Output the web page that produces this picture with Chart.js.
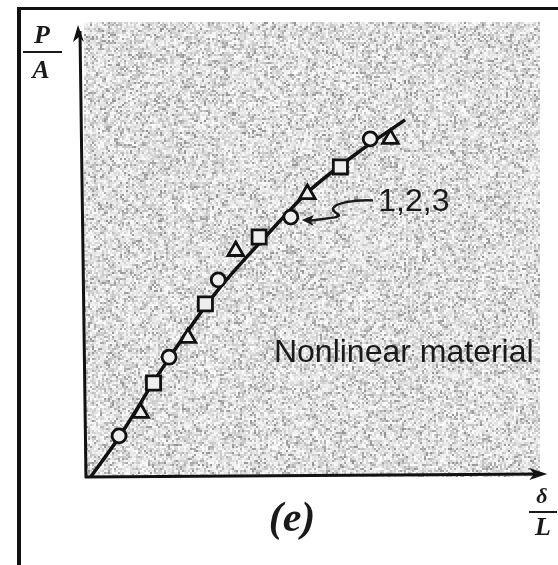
<!DOCTYPE html>
<html>
<head>
<meta charset="utf-8">
<script src="https://cdn.jsdelivr.net/npm/chart.js@4"></script>
<style>
  html, body { margin: 0; padding: 0; background: #fff; }
  canvas { display: block; }
</style>
</head>
<body>
<canvas id="chart" width="558" height="565"></canvas>
<script>
// curve through the test points (strain, stress)
var curveX = [1, 7.2, 16.4, 27.9, 39.2, 48.4, 60.6, 69.5];
var curveY = [0, 8.8, 23.7, 40.3, 53.3, 63.1, 72.8, 79.0];

// specimen 1 (circles), 2 (triangles), 3 (squares)
var circleX = [7.2, 18.1, 28.8, 44.6, 61.9];
var circleY = [9.1, 26.5, 43.6, 57.5, 74.8];
var triangleX = [11.9, 22.2, 32.6, 48.2, 66.3];
var triangleY = [14.2, 30.8, 50.0, 62.6, 74.8];
var squareX = [14.7, 26.0, 37.7, 55.4];
var squareY = [20.8, 38.3, 53.1, 68.6];

var pairs = function (xs, ys) {
  return xs.map(function (x, i) { return { x: x, y: ys[i] }; });
};

// small deterministic generator for the paper texture
function mulberry32(a) {
  return function () {
    a |= 0; a = a + 0x6D2B79F5 | 0;
    var t = Math.imul(a ^ a >>> 15, 1 | a);
    t = t + Math.imul(t ^ t >>> 7, 61 | t) ^ t;
    return ((t ^ t >>> 14) >>> 0) / 4294967296;
  };
}

// gray stipple texture + frame + axes with arrows, drawn behind the data
var backdrop = {
  id: 'backdrop',
  beforeDatasetsDraw: function (chart) {
    var ctx = chart.ctx, a = chart.chartArea;
    ctx.save();
    // frame (left and top rules of the scanned page)
    ctx.fillStyle = '#111';
    ctx.fillRect(17, 7, 4, 558);
    ctx.fillRect(17, 7, 541, 3);

    // stipple
    var x0 = Math.round(a.left - 2), y0 = Math.round(a.top - 3);
    var w = Math.round(a.right - 5 - x0), h = Math.round(a.bottom - y0);
    var img = ctx.createImageData(w, h);
    var rnd = mulberry32(2024);
    var cw = Math.ceil(w / 2) + 1, ch = Math.ceil(h / 2) + 1;
    var cell = new Array(cw * ch);
    for (var i = 0; i < cw * ch; i++) {
      var r = rnd();
      var v = r < 0.15 ? 145 + rnd() * 45 : (r < 0.45 ? 195 + rnd() * 25 : 222 + rnd() * 32);
      cell[i] = Math.round(v);
    }
    for (var yy = 0; yy < h; yy++) {
      for (var xx = 0; xx < w; xx++) {
        var c = cell[(yy >> 1) * cw + (xx >> 1)];
        var k = (yy * w + xx) * 4;
        img.data[k] = c;
        img.data[k + 1] = c;
        img.data[k + 2] = c;
        img.data[k + 3] = 255;
      }
    }
    ctx.putImageData(img, x0, y0);

    // axes
    ctx.strokeStyle = '#111';
    ctx.fillStyle = '#111';
    ctx.lineWidth = 3;
    ctx.beginPath();
    ctx.moveTo(a.left, a.bottom + 1);
    ctx.lineTo(a.left - 6, a.top + 6);
    ctx.moveTo(a.left - 1, a.bottom);
    ctx.lineTo(a.right - 4, a.bottom - 3);
    ctx.stroke();
    // arrowheads
    ctx.beginPath();
    ctx.moveTo(a.left - 8, a.top);
    ctx.lineTo(a.left - 2, a.top + 17);
    ctx.lineTo(a.left - 7, a.top + 12);
    ctx.lineTo(a.left - 13, a.top + 17);
    ctx.closePath();
    ctx.fill();
    ctx.beginPath();
    ctx.moveTo(a.right + 2, a.bottom - 3);
    ctx.lineTo(a.right - 16, a.bottom - 9);
    ctx.lineTo(a.right - 11, a.bottom - 3);
    ctx.lineTo(a.right - 16, a.bottom + 3);
    ctx.closePath();
    ctx.fill();
    ctx.restore();
  },
  afterDatasetsDraw: function (chart) {
    var ctx = chart.ctx, xs = chart.scales.x, ys = chart.scales.y;
    ctx.save();
    ctx.fillStyle = '#1a1a1a';
    ctx.strokeStyle = '#1a1a1a';

    // labels inside the plot
    ctx.font = '32px "Liberation Sans", Arial, sans-serif';
    ctx.textAlign = 'center';
    ctx.textBaseline = 'middle';
    ctx.fillText('Nonlinear material', xs.getPixelForValue(69.2), ys.getPixelForValue(27.4));
    ctx.font = '32px "Liberation Sans", Arial, sans-serif';
    ctx.fillText('1,2,3', xs.getPixelForValue(71.4), ys.getPixelForValue(60.8));

    // wavy pointer from "1,2,3" to the circle
    var tx = xs.getPixelForValue(circleX[3]) + 11, ty = ys.getPixelForValue(circleY[3]) + 3;
    var sx = xs.getPixelForValue(62.5), sy = ys.getPixelForValue(61.2);
    ctx.lineWidth = 2.5;
    ctx.beginPath();
    ctx.moveTo(sx, sy);
    ctx.bezierCurveTo(sx - 20, sy - 1, sx - 38, sy + 3, sx - 40, sy + 8);
    ctx.bezierCurveTo(sx - 40, sy + 14, sx - 28, sy + 14, sx - 38, sy + 17);
    ctx.lineTo(tx + 6, ty + 1);
    ctx.stroke();
    ctx.beginPath();
    ctx.moveTo(tx, ty);
    ctx.lineTo(tx + 12, ty - 5);
    ctx.lineTo(tx + 9, ty + 1);
    ctx.lineTo(tx + 12, ty + 6);
    ctx.closePath();
    ctx.fill();

    // axis symbols
    ctx.font = 'italic bold 26px "Liberation Serif", "DejaVu Serif", serif';
    ctx.fillText('P', 42, 36);
    ctx.fillText('A', 41, 71);
    ctx.fillRect(23, 51, 39, 2);
    ctx.font = 'italic bold 22px "Liberation Serif", "DejaVu Serif", serif';
    ctx.fillText('δ', 542, 497);
    ctx.font = 'italic bold 26px "Liberation Serif", "DejaVu Serif", serif';
    ctx.fillText('L', 543, 528);
    ctx.fillRect(529, 511, 28, 2);

    // panel tag
    ctx.font = 'italic bold 42px "Liberation Serif", "DejaVu Serif", serif';
    ctx.fillText('(e)', 292, 520);
    ctx.restore();
  }
};

new Chart(document.getElementById('chart'), {
  type: 'scatter',
  data: {
    datasets: [
      {
        label: 'curve',
        data: pairs(curveX, curveY),
        showLine: true,
        borderColor: '#111',
        borderWidth: 3.5,
        pointRadius: 0,
        cubicInterpolationMode: 'monotone',
        order: 4
      },
      {
        label: '1',
        data: pairs(circleX, circleY),
        pointStyle: 'circle',
        pointRadius: 7,
        borderWidth: 2.8,
        borderColor: '#111',
        backgroundColor: '#eeeeee',
        order: 1
      },
      {
        label: '2',
        data: pairs(triangleX, triangleY),
        pointStyle: 'triangle',
        pointRadius: 9,
        borderWidth: 2.8,
        borderColor: '#111',
        backgroundColor: '#eeeeee',
        order: 2
      },
      {
        label: '3',
        data: pairs(squareX, squareY),
        pointStyle: 'rect',
        pointRadius: 10,
        borderWidth: 2.8,
        borderColor: '#111',
        backgroundColor: '#eeeeee',
        order: 3
      }
    ]
  },
  options: {
    responsive: false,
    animation: false,
    layout: { padding: { left: 86, top: 25, right: 3, bottom: 88 } },
    plugins: { legend: { display: false }, tooltip: { enabled: false } },
    scales: {
      x: { type: 'linear', min: 0, max: 100, display: false },
      y: { type: 'linear', min: 0, max: 100, display: false }
    }
  },
  plugins: [backdrop]
});
</script>
</body>
</html>
